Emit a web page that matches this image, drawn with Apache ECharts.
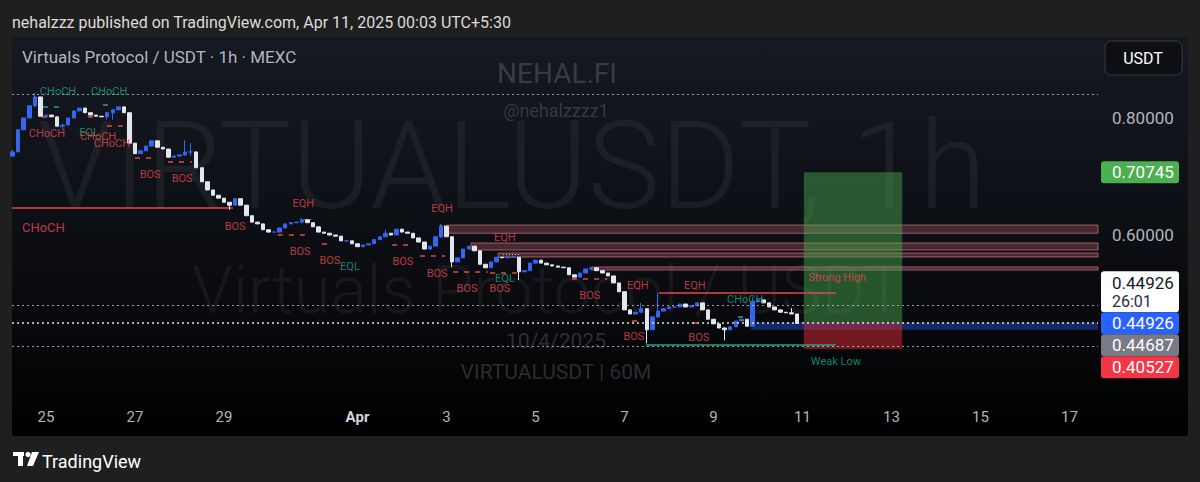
<!DOCTYPE html>
<html><head><meta charset="utf-8">
<script src="https://cdn.jsdelivr.net/npm/echarts@6/dist/echarts.min.js"></script>
<style>
html,body{margin:0;padding:0;background:#1f1f1f;width:1200px;height:482px;overflow:hidden;}
#pane{position:absolute;left:12px;top:37px;width:1176px;height:399px;background:linear-gradient(#151922,#090b0f 65%,#000);border-radius:3px;}
#chart{position:absolute;left:0;top:0;width:1200px;height:482px;}
</style></head><body><div id="pane"></div><div id="chart"></div>
<script>
// ---- data (x in days: March days, Apr 1 = 32) ----
const startDay = 24.25;       // first candle: Mar 24 06:00
const stepDay = 0.125;        // 3-hour candles
const firstOpen = 0.735;
const closes = [
0.742,0.780,0.800,0.821,0.836,0.803,0.805,0.802,0.786,0.788,
0.800,0.812,0.817,0.809,0.805,0.803,0.802,0.809,0.814,0.819,
0.809,0.757,0.739,0.744,0.752,0.761,0.750,0.747,0.733,0.735,
0.737,0.742,0.742,0.715,0.691,0.677,0.668,0.663,0.656,0.651,
0.662,0.651,0.633,0.622,0.619,0.609,0.605,0.605,0.612,0.619,
0.621,0.622,0.626,0.621,0.614,0.605,0.603,0.600,0.598,0.590,
0.590,0.585,0.580,0.583,0.585,0.592,0.597,0.603,0.600,0.610,
0.605,0.603,0.595,0.588,0.576,0.581,0.597,0.615,0.597,0.554,
0.561,0.576,0.581,0.573,0.550,0.544,0.554,0.562,0.561,0.562,
0.562,0.537,0.539,0.552,0.557,0.552,0.549,0.547,0.545,0.544,
0.532,0.528,0.535,0.542,0.544,0.539,0.535,0.530,0.518,0.503,
0.472,0.465,0.468,0.474,0.438,0.460,0.470,0.474,0.477,0.477,
0.482,0.477,0.479,0.484,0.472,0.456,0.448,0.441,0.438,0.443,
0.453,0.456,0.444,0.486,0.489,0.484,0.477,0.472,0.468,0.467,
0.465,0.449];
// explicit wicks [low, high] for candles with visible shadows
const wicks = {0:[0.733,0.746],4:[0.819,0.843],9:[0.779,0.790],17:[0.797,0.810],18:[0.797,0.815],
  31:[0.735,0.762],32:[0.735,0.757],39:[0.643,0.656],52:[0.620,0.629],67:[0.598,0.609],
  77:[0.595,0.619],79:[0.545,0.598],91:[0.523,0.562],113:[0.467,0.484],114:[0.415,0.474],
  116:[0.458,0.501],128:[0.420,0.442],133:[0.444,0.494],140:[0.465,0.475]};

const tickDays = [25,27,29,32,34,36,38,40,42,44,46,48];
const tickLabels = ['25','27','29','Apr','3','5','7','9','11','13','15','17'];
const yTicks = [0.6, 0.8];

// supply/EQH zones: [startDay, low, high]
const eqhZones = [[33.99,0.603,0.617],[34.55,0.5744,0.5863],[35.16,0.5624,0.5692],[37.25,0.5402,0.5453]];
const orderBlock = [40.84, 0.438, 0.4505];
const posStart = 42.03, posEnd = 44.24, posEntry = 0.44926, posTarget = 0.70745, posStop = 0.40527;
const grayLevel = 0.44687;
// solid structure lines: [x1, x2, price, colorKey]
const levelLines = [[24.24,29.2,0.6462,'r'],[38.78,42.75,0.5009,'r'],[38.48,42.75,0.412,'g']];
// dashed structure segments: [x1, x2, price, colorKey]
const dashSegs = [
 [24.93,25.38,0.8188,'g'],[26.28,26.44,0.8222,'g'],[24.91,25.04,0.8017,'r'],[25.94,26.15,0.8017,'r'],
 [26.37,26.78,0.7863,'r'],[27.00,27.49,0.7316,'r'],[27.74,28.28,0.7248,'r'],[30.21,30.93,0.6000,'r'],
 [31.20,31.34,0.5846,'r'],[32.78,33.25,0.5829,'r'],[33.40,33.97,0.5640,'r'],[34.15,34.93,0.5368,'r'],
 [34.98,35.58,0.5350,'r'],[36.82,37.61,0.5248,'r'],[38.17,38.28,0.4530,'r'],[39.52,39.65,0.4496,'r'],
 [40.55,40.71,0.4598,'g'],[30.74,30.96,0.6274,'w'],[33.87,33.99,0.6171,'w'],[35.27,35.65,0.5675,'w']];
const dottedLevels = [0.8432, 0.4843, 0.4137];
const lastPrice = 0.44926;
const smcLabels = [
 ['CHoCH',25.27,0.846,'g'],['CHoCH',26.42,0.846,'g'],['CHoCH',25.02,0.774,'r'],['EQL',25.97,0.776,'g'],
 ['CHoCH',26.17,0.769,'r'],['CHoCH',26.48,0.757,'r'],['BOS',27.34,0.704,'r'],['BOS',28.06,0.697,'r'],
 ['BOS',29.25,0.6137,'r'],['EQH',30.78,0.653,'r'],['BOS',30.71,0.571,'r'],['BOS',31.38,0.5556,'r'],
 ['EQL',31.83,0.547,'g'],['BOS',33.02,0.554,'r'],['EQH',33.90,0.646,'r'],['BOS',33.79,0.535,'r'],
 ['EQH',35.31,0.595,'r'],['BOS',34.46,0.509,'r'],['EQL',35.31,0.525,'g'],['BOS',35.20,0.508,'r'],
 ['BOS',37.22,0.497,'r'],['EQH',38.30,0.5145,'r'],['EQH',39.58,0.5145,'r'],['CHoCH',40.71,0.489,'g'],
 ['BOS',38.21,0.427,'r'],['BOS',39.67,0.424,'r'],['Strong High',42.78,0.528,'r'],['Weak Low',42.75,0.3846,'g']];
const bigLabel = ['CHoCH', 24.46, 0.612];

// ---- build ----
const xMin = 24.236, xMax = 48.64;
const yMin = 0.31795, yMax = 0.93675;
const COL = {r:'#e5474f', g:'#1fa483', w:'rgba(230,230,230,0.8)'};
const FONT = 'Roboto, "Noto Sans", sans-serif';

const candles = closes.map((c, i) => {
  const o = i === 0 ? firstOpen : closes[i-1];
  let lo = Math.min(o, c), hi = Math.max(o, c);
  if (wicks[i]) { lo = Math.min(lo, wicks[i][0]); hi = Math.max(hi, wicks[i][1]); }
  return [startDay + i*stepDay, o, c, lo, hi];
});

const zoneAreas = eqhZones.map(z => [
  {coord:[z[0], z[2]], itemStyle:{color:'rgba(178,95,105,0.35)', borderColor:'rgba(205,110,120,0.75)', borderWidth:1}},
  {coord:[xMax, z[1]]}]);
zoneAreas.push([{coord:[orderBlock[0], orderBlock[2]], itemStyle:{color:'rgba(41,98,255,0.38)'}},{coord:[xMax, orderBlock[1]]}]);
zoneAreas.push([{coord:[posStart, posTarget], itemStyle:{color:'rgba(76,175,80,0.45)'}},{coord:[posEnd, posEntry]}]);
zoneAreas.push([{coord:[posStart, posEntry], itemStyle:{color:'rgba(220,40,55,0.5)'}},{coord:[posEnd, posStop]}]);

const segData = levelLines.map(l => ({coords:[[l[0],l[2]],[l[1],l[2]]], lineStyle:{color:COL[l[3]], width:1.6, type:'solid', opacity:1}}))
 .concat(dashSegs.map(s => ({coords:[[s[0],s[2]],[s[1],s[2]]], lineStyle:{color:COL[s[3]], width:s[3]==='w'?1:1.6, type:s[3]==='w'?[1,2]:[5,6], opacity:1}})));

const labelData = smcLabels.map(l => ({value:[l[1], l[2]], label:{formatter:l[0], color:COL[l[3]]}}));
labelData.push({value:[bigLabel[1], bigLabel[2]], label:{formatter:bigLabel[0], color:'#e5474f', fontSize:13, align:'left'}});

const wm = 'rgba(255,255,255,0.055)';
const wm2 = 'rgba(255,255,255,0.17)';

const chart = echarts.init(document.getElementById('chart'), null, {renderer:'svg'});
chart.setOption({
  animation:false,
  backgroundColor:'transparent',
  grid:{left:12, right:102, top:38, height:362},
  xAxis:{type:'value', min:xMin, max:xMax, axisLine:{show:false}, axisTick:{show:false}, splitLine:{show:false},
    axisLabel:{customValues:tickDays, margin:9, color:'#b2b5be', fontSize:15, fontFamily:FONT,
      formatter:v => { const k = tickDays.indexOf(v); const t = k >= 0 ? tickLabels[k] : ''; return t === 'Apr' ? '{b|Apr}' : t; },
      rich:{b:{fontWeight:'bold', color:'#d1d4dc', fontSize:15, fontFamily:FONT}}}},
  yAxis:{type:'value', position:'right', min:yMin, max:yMax, axisLine:{show:false}, axisTick:{show:false}, splitLine:{show:false},
    axisLabel:{customValues:yTicks, margin:14, color:'#b2b5be', fontSize:17, fontFamily:FONT, formatter:v => v.toFixed(5)}},
  series:[
    {type:'line', name:'zones', data:[], z:1, markArea:{silent:true, data:zoneAreas}},
    {type:'lines', coordinateSystem:'cartesian2d', z:3, silent:true, data:segData},
    {type:'candlestick', name:'VIRTUALUSDT', z:4, barWidth:4, encode:{x:0, y:[1,2,3,4]}, data:candles,
      itemStyle:{color:'#3566f0', color0:'#e3e6ee', borderColor:'#3566f0', borderColor0:'#e3e6ee', borderWidth:1},
      markLine:{silent:true, symbol:'none', label:{show:false},
        data:dottedLevels.map(v => ({yAxis:v, lineStyle:{color:'rgba(215,215,215,0.7)', type:[2,3], width:1}}))
          .concat([{yAxis:lastPrice, lineStyle:{color:'rgba(245,240,215,0.95)', type:[2,3], width:1.5}}])}},
    {type:'scatter', z:5, symbol:'circle', symbolSize:1, itemStyle:{color:'rgba(0,0,0,0)'}, silent:true,
      label:{show:true, position:'inside', fontSize:11, fontFamily:FONT}, data:labelData}
  ]
});

const py = v => chart.convertToPixel({yAxisIndex:0}, v);
const yT = py(posTarget), yL = py(lastPrice);
function tag(top, h, bg, lines){
  const els = [{type:'rect', shape:{x:1101, y:top, width:78, height:h, r:3}, style:{fill:bg}}];
  lines.forEach(l => els.push({type:'text', x:1112, y:l[0], style:{text:l[1], fill:l[2], font:(l[3]||17)+'px '+FONT, textVerticalAlign:'middle'}}));
  return els;
}
const bY = yL - 11;
const tags = [].concat(
  tag(yT - 11, 22, '#4caf50', [[yT, posTarget.toFixed(5), '#ffffff']]),
  tag(bY - 41, 41, '#ffffff', [[bY - 29, lastPrice.toFixed(5), '#131722'], [bY - 11, '26:01', '#2a2e39', 16]]),
  tag(bY, 22, '#2962ff', [[bY + 11, lastPrice.toFixed(5), '#ffffff']]),
  tag(bY + 22, 22, '#787b86', [[bY + 33, grayLevel.toFixed(5), '#ffffff']]),
  tag(bY + 44, 22, '#f23645', [[bY + 55, posStop.toFixed(5), '#ffffff']])
);

chart.setOption({graphic:[
  // watermarks (behind)
  {type:'text', z:-1, silent:true, x:512, y:166, style:{text:'VIRTUALUSDT, 1h', fill:wm, font:'300 122px '+FONT, textAlign:'center', textVerticalAlign:'middle'}},
  {type:'text', z:-1, silent:true, x:548, y:290, style:{text:'Virtuals Protocol / USDT', fill:wm, font:'300 67px '+FONT, textAlign:'center', textVerticalAlign:'middle'}},
  {type:'text', z:-1, silent:true, x:557, y:73, style:{text:'NEHAL.FI', fill:wm2, font:'28px '+FONT, textAlign:'center', textVerticalAlign:'middle'}},
  {type:'text', z:-1, silent:true, x:556, y:110, style:{text:'@nehalzzzz1', fill:wm2, font:'18px '+FONT, textAlign:'center', textVerticalAlign:'middle'}},
  {type:'text', z:-1, silent:true, x:556, y:341, style:{text:'10/4/2025', fill:wm2, font:'21px '+FONT, textAlign:'center', textVerticalAlign:'middle'}},
  {type:'text', z:-1, silent:true, x:556, y:372, style:{text:'VIRTUALUSDT | 60M', fill:wm2, font:'21px '+FONT, textAlign:'center', textVerticalAlign:'middle'}},
  // header / title
  {type:'text', z:50, x:12, y:22, style:{text:'nehalzzz published on TradingView.com, Apr 11, 2025 00:03 UTC+5:30', fill:'#dcdcdc', font:'16px '+FONT, textVerticalAlign:'middle'}},
  {type:'text', z:50, x:22, y:57, style:{text:'Virtuals Protocol / USDT · 1h · MEXC', fill:'#b2b5be', font:'17px '+FONT, textVerticalAlign:'middle'}},
  // USDT button
  {type:'rect', z:50, shape:{x:1105, y:41, width:77, height:34, r:6}, style:{fill:'#0e0f12', stroke:'rgba(255,255,255,0.16)', lineWidth:1}},
  {type:'text', z:51, x:1143, y:58, style:{text:'USDT', fill:'#ffffff', font:'16px '+FONT, textAlign:'center', textVerticalAlign:'middle'}},
  // footer logo
  {type:'rect', z:50, shape:{x:13, y:452, width:11, height:4}, style:{fill:'#ffffff'}},
  {type:'rect', z:50, shape:{x:18, y:452, width:5, height:14}, style:{fill:'#ffffff'}},
  {type:'circle', z:50, shape:{cx:28, cy:454.5, r:2.6}, style:{fill:'#ffffff'}},
  {type:'polygon', z:50, shape:{points:[[32,452],[39,452],[33,466],[27,466]]}, style:{fill:'#ffffff'}},
  {type:'text', z:50, x:42, y:461, style:{text:'TradingView', fill:'#ffffff', font:'18px '+FONT, textVerticalAlign:'middle'}}
].concat(tags.map(e => Object.assign({z:60}, e)))});
</script></body></html>
